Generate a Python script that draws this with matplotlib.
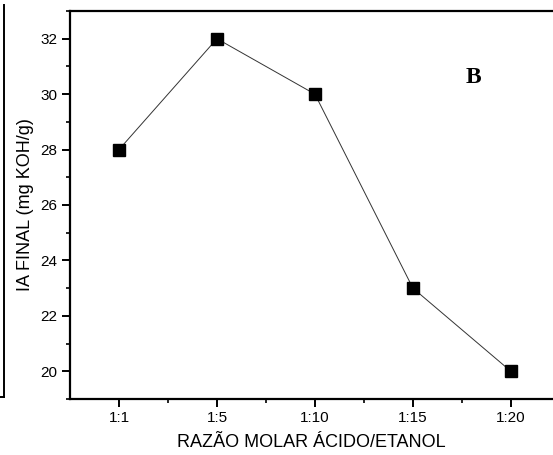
import matplotlib
matplotlib.use("Agg")
import matplotlib.pyplot as plt
from matplotlib.lines import Line2D
from matplotlib.ticker import MultipleLocator, FixedLocator

categories = ["1:1", "1:5", "1:10", "1:15", "1:20"]
ia_final = [28, 32, 30, 23, 20]
y_ticks = [20, 22, 24, 26, 28, 30, 32]

plt.rcParams['font.family'] = ['Liberation Sans', 'DejaVu Sans']

fig = plt.figure(figsize=(5.53, 4.55), dpi=100)
ax = fig.add_axes([70/553, 56/455, 1 - 70/553, (399-11)/455])

x = list(range(len(categories)))
ax.plot(x, ia_final, color='#333333', linewidth=0.7, marker='s', markersize=8.5,
        markerfacecolor='black', markeredgecolor='black', zorder=3)

ax.set_xlim(-0.5, 4.43)
ax.set_ylim(19, 33)
ax.set_xticks(x)
ax.set_xticklabels(categories)
ax.xaxis.set_minor_locator(FixedLocator([0.5, 1.5, 2.5, 3.5]))
ax.set_yticks(y_ticks)
ax.yaxis.set_minor_locator(MultipleLocator(1))

for s in ['left', 'bottom', 'top']:
    ax.spines[s].set_linewidth(1.6)
ax.spines['right'].set_visible(False)

ax.tick_params(which='major', direction='out', length=6, width=1.4, labelsize=11, pad=3)
ax.tick_params(which='minor', direction='out', length=3, width=1.2)
ax.tick_params(axis='x', which='both', top=False)

ax.set_xlabel("RAZÃO MOLAR ÁCIDO/ETANOL", fontsize=13, labelpad=6)
ax.set_ylabel("IA FINAL (mg KOH/g)", fontsize=13, labelpad=5)

ax.text(473/553, 1 - 77/455, "B", transform=fig.transFigure, fontsize=17,
        fontweight='bold', family='Liberation Serif', ha='center', va='center')

fig.add_artist(Line2D([3.5/553, 3.5/553], [1 - 5/455, 1 - 397/455], color='black', linewidth=1.4,
                      transform=fig.transFigure))
fig.add_artist(Line2D([0, 3.5/553], [1 - 397/455, 1 - 397/455], color='black', linewidth=1.4,
                      transform=fig.transFigure))

fig.savefig("out.png", dpi=100)
